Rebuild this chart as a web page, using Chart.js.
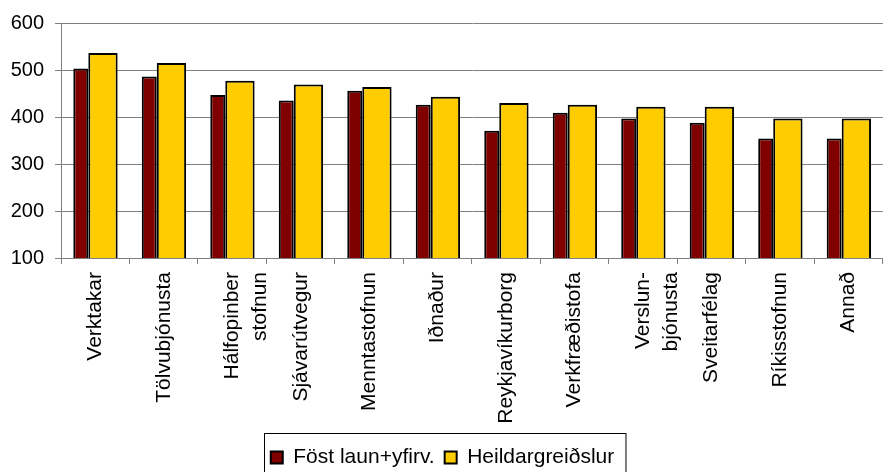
<!DOCTYPE html>
<html>
<head>
<meta charset="utf-8">
<script src="https://cdn.jsdelivr.net/npm/chart.js@4/dist/chart.umd.min.js"></script>
<style>
  html, body { margin: 0; padding: 0; background: #fff; }
  #wrap { width: 885px; height: 472px; position: relative; }
</style>
</head>
<body>
<div id="wrap"><canvas id="chart"></canvas></div>
<script>
// categories (two-line labels as arrays)
const categories = [
  "Verktakar",
  "Tölvubjónusta",
  ["Hálfopinber", "stofnun"],
  "Sjávarútvegur",
  "Menntastofnun",
  "Iðnaður",
  "Reykjavíkurborg",
  "Verkfræðistofa",
  ["Verslun-", "bjónusta"],
  "Sveitarfélag",
  "Ríkisstofnun",
  "Annað"
]

const fostLaun = [503, 486, 447, 435, 456, 426, 371, 409, 397, 388, 354, 354]
const heildar = [536, 515, 477, 469, 464, 443, 430, 426, 422, 422, 397, 397]

const yTicks = [100, 200, 300, 400, 500, 600]

const FONT = "'Liberation Sans', Arial, sans-serif"

// draws a frame round the legend items, like the spreadsheet legend box
const legendFrame = {
  id: "legendFrame",
  afterDraw(chart) {
    const boxes = chart.legend && chart.legend.legendHitBoxes
    if (!boxes || !boxes.length) return
    const left = Math.min(...boxes.map((b) => b.left))
    const right = Math.max(...boxes.map((b) => b.left + b.width))
    const top = Math.min(...boxes.map((b) => b.top))
    const ctx = chart.ctx
    ctx.save()
    ctx.strokeStyle = "#000"
    ctx.lineWidth = 1
    ctx.strokeRect(Math.round(left - 7) + 0.5, Math.round(top - 14) + 0.5, right - left + 18, 60)
    ctx.restore()
  }
}

new Chart(document.getElementById("chart"), {
  type: "bar",
  data: {
    labels: categories,
    datasets: [
      {
        label: "Föst laun+yfirv.",
        data: fostLaun,
        backgroundColor: "#800000",
        borderColor: "#000",
        borderWidth: 2,
        borderSkipped: false,
        categoryPercentage: 0.845,
        barPercentage: 0.517
      },
      {
        label: "Heildargreiðslur",
        data: heildar,
        backgroundColor: "#FFCC00",
        borderColor: "#000",
        borderWidth: 2,
        borderSkipped: false,
        categoryPercentage: 0.451,
        barPercentage: 1.9
      }
    ]
  },
  options: {
    responsive: true,
    maintainAspectRatio: false,
    animation: false,
    layout: { padding: { top: 22, right: 0, left: 0, bottom: -6 } },
    plugins: {
      legend: {
        position: "bottom",
        labels: {
          color: "#000",
          font: { family: FONT, size: 21 },
          boxWidth: 12,
          boxHeight: 12,
          padding: 10
        }
      },
      tooltip: { enabled: false },
      title: { display: false }
    },
    scales: {
      x: {
        offset: true,
        grid: {
          offset: true,
          drawOnChartArea: false,
          drawTicks: true,
          tickLength: 6,
          color: "#808080"
        },
        border: { color: "#808080", width: 1 },
        ticks: {
          color: "#000",
          font: { family: FONT, size: 21, lineHeight: 1.35 },
          maxRotation: 90,
          minRotation: 90,
          autoSkip: false,
          padding: 8
        },
        afterFit: (scale) => { scale.height = 179 }
      },
      y: {
        min: 100,
        max: 600,
        afterBuildTicks: (scale) => { scale.ticks = yTicks.map((v) => ({ value: v })) },
        grid: { color: "#808080", tickLength: 6 },
        border: { color: "#808080", width: 1 },
        ticks: {
          color: "#000",
          font: { family: FONT, size: 20 },
          padding: 11
        },
        afterFit: (scale) => { scale.width = 61 }
      }
    }
  },
  plugins: [legendFrame]
})
</script>
</body>
</html>
